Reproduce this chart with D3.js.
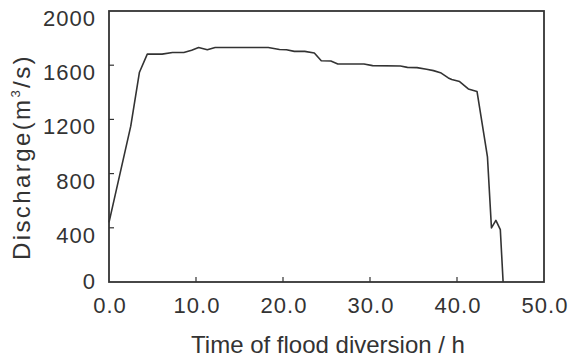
<html>
<head>
  <script src="https://d3js.org/d3.v7.min.js"></script>
  <style>
    body { margin: 0; background: #fff; }
    text { font-family: "Liberation Sans", Arial, sans-serif; fill: #333; }
  </style>
</head>
<body>
  <script>
    // discharge hydrograph
    var hours = [0, 2.5, 3.5, 4.4, 6.1, 7.3, 8.6, 9.5, 10.3, 11.3, 12.2, 18.3, 19.6, 20.4, 21.3, 22.5, 23.6, 24.4, 25.5, 26.3, 29.3, 30.3, 33.5, 34.3, 35.4, 36.5, 37.3, 38.1, 39.0, 39.4, 40.3, 41.3, 42.3, 43.2, 43.5, 43.96, 44.47, 44.98, 45.3];
    var discharge = [440, 1150, 1548, 1682, 1682, 1694, 1694, 1711, 1731, 1714, 1731, 1731, 1716, 1714, 1702, 1702, 1690, 1633, 1631, 1609, 1609, 1597, 1594, 1584, 1582, 1570, 1560, 1545, 1506, 1494, 1479, 1425, 1406, 1046, 924, 399, 455, 386, 0];
    var xTicks = [0, 10, 20, 30, 40, 50];
    var yTicks = [0, 400, 800, 1200, 1600, 2000];

    var width = 577, height = 363;
    var pl = 109, pr = 544, pt = 11, pb = 282;

    var svg = d3.select("body").append("svg")
      .attr("width", width)
      .attr("height", height);

    var x = d3.scaleLinear().domain([0, 50]).range([pl, pr]);
    var y = d3.scaleLinear().domain([0, 2000]).range([pb, pt]);

    // inward ticks
    svg.selectAll(".xt").data(xTicks.slice(1, -1)).enter().append("line")
      .attr("x1", function(d){ return x(d); }).attr("x2", function(d){ return x(d); })
      .attr("y1", pb).attr("y2", pb - 5)
      .attr("stroke", "#333").attr("stroke-width", 1.2);
    svg.selectAll(".yt").data(yTicks.slice(1, -1)).enter().append("line")
      .attr("x1", pl).attr("x2", pl + 5)
      .attr("y1", function(d){ return y(d); }).attr("y2", function(d){ return y(d); })
      .attr("stroke", "#333").attr("stroke-width", 1.2);

    // frame
    svg.append("rect")
      .attr("x", pl).attr("y", pt)
      .attr("width", pr - pl).attr("height", pb - pt)
      .attr("fill", "none").attr("stroke", "#333").attr("stroke-width", 1.8);

    svg.selectAll(".xl").data(xTicks).enter().append("text")
      .attr("x", function(d){ return x(d) + 1; })
      .attr("y", 313)
      .attr("text-anchor", "middle")
      .attr("font-size", 22)
      .attr("letter-spacing", 1)
      .text(function(d){ return d3.format(".1f")(d); });

    // labels sit a little below their ticks in the original
    svg.selectAll(".yl").data(yTicks).enter().append("text")
      .attr("x", 96)
      .attr("y", function(d){ return d === 0 ? y(d) + 7 : y(d) + 15; })
      .attr("text-anchor", "end")
      .attr("font-size", 22)
      .attr("letter-spacing", 1)
      .text(function(d){ return d; });

    svg.append("text")
      .attr("x", 328).attr("y", 353)
      .attr("text-anchor", "middle")
      .attr("font-size", 24)
      .text("Time of flood diversion / h");

    var yt = svg.append("text")
      .attr("transform", "translate(30,260) rotate(-90)")
      .attr("font-size", 24)
      .attr("letter-spacing", 2.4);
    yt.append("tspan").text("Discharge(m");
    yt.append("tspan").attr("font-size", 13).attr("dy", -10).text("3");
    yt.append("tspan").attr("dy", 10).text("/s)");

    var pts = hours.map(function(h, i){ return [h, discharge[i]]; });
    var line = d3.line()
      .x(function(d){ return x(d[0]); })
      .y(function(d){ return y(d[1]); });

    svg.append("path")
      .datum(pts)
      .attr("d", line)
      .attr("fill", "none")
      .attr("stroke", "#333")
      .attr("stroke-width", 1.6)
      .attr("stroke-linejoin", "round");
  </script>
</body>
</html>
